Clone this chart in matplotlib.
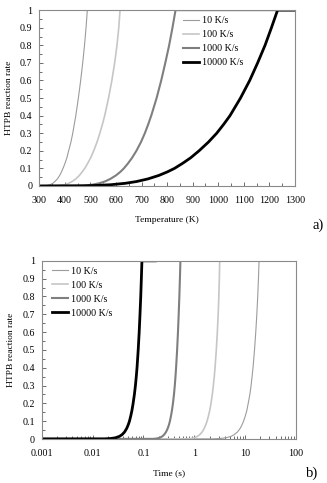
import numpy as np
import matplotlib
matplotlib.use('Agg')
import matplotlib.pyplot as plt
from matplotlib.ticker import MultipleLocator, LogLocator, FixedLocator

plt.rcParams['font.family'] = ['Liberation Serif', 'DejaVu Serif']

# heating rates (K/s) and labels
rates = [10, 100, 1000, 10000]
labels = ['10 K/s', '100 K/s', '1000 K/s', '10000 K/s']
T0 = 300.0

# conversion levels
alpha = [0, 0.001, 0.003, 0.007, 0.015, 0.025, 0.04, 0.06, 0.08, 0.1, 0.13, 0.16,
         0.2, 0.25, 0.3, 0.35, 0.4, 0.5, 0.6, 0.7, 0.8, 0.9, 1.0, 1.0]

# temperature (K) at each conversion level, per heating rate
temp_10 = [300, 323, 332, 342, 353, 361, 371, 380, 387, 393, 401, 408,
           415, 424, 431, 437, 443, 453, 462, 470, 477, 483, 488, 500]
temp_100 = [300, 370, 385, 400, 415, 428, 443, 457, 468, 478, 490, 501,
            513, 526, 537, 547, 556, 571, 584, 595, 604, 611, 616, 2000]
temp_1000 = [300, 457, 482, 507, 534, 556, 578, 600, 617, 631, 648, 663,
             680, 698, 713, 726, 738, 759, 777, 793, 808, 821, 833, 2000]
temp_10000 = [300, 473, 526, 580, 636, 680, 725, 768, 801, 829, 862, 892,
              925, 962, 994, 1021, 1046, 1087, 1123, 1154, 1183, 1208, 1232, 2000]

temps = [temp_10, temp_100, temp_1000, temp_10000]
colors = ['#9c9c9c', '#c6c6c6', '#7f7f7f', '#000000']
widths = [0.8, 1.2, 1.5, 2.0]

fig = plt.figure(figsize=(3.27, 4.83), dpi=100)
ax1 = fig.add_axes([0.120, 0.615, 0.782, 0.364])
ax2 = fig.add_axes([0.128, 0.091, 0.777, 0.369])

for T, c, w, lab, r in zip(temps, colors, widths, labels, rates):
    T = np.array(T, dtype=float)
    ax1.plot(T, alpha, color=c, lw=w, label=lab)
    # time to reach each temperature at constant heating rate
    ax2.plot((T - T0) / r, alpha, color=c, lw=w, label=lab)

ax1.set_xlim(300, 1300)
ax1.set_ylim(0, 1)
ax1.xaxis.set_major_locator(MultipleLocator(100))
ax1.xaxis.set_minor_locator(MultipleLocator(50))

ax2.set_xscale('log')
ax2.set_xlim(0.001, 100)
ax2.set_ylim(0, 1)
ax2.xaxis.set_major_locator(FixedLocator([0.001, 0.01, 0.1, 1, 10, 100]))
ax2.xaxis.set_minor_locator(LogLocator(base=10, subs=np.arange(2, 10), numticks=20))
ax2.set_xticklabels(['0.001', '0.01', '0.1', '1', '10', '100'])

ylabs = ['0'] + ['%.1f' % v for v in np.arange(0.1, 0.95, 0.1)] + ['1']
for ax in (ax1, ax2):
    ax.set_yticks(np.round(np.arange(0, 1.01, 0.1), 1))
    ax.set_yticklabels(ylabs)
    ax.yaxis.set_minor_locator(MultipleLocator(0.05))
    for s in ax.spines.values():
        s.set_color('#8a8a8a')
        s.set_linewidth(0.8)
    ax.tick_params(which='both', direction='in', color='#555555', width=0.6,
                   labelsize=7.2)
    ax.tick_params(which='major', length=3)
    ax.tick_params(which='minor', length=2)
    ax.tick_params(axis='x', pad=7)
    ax.tick_params(axis='y', pad=5)
    ax.set_ylabel('HTPB reaction rate', fontsize=6.8, labelpad=5)

ax1.set_xlabel('Temperature (K)', fontsize=6.8, labelpad=8)
ax2.set_xlabel('Time (s)', fontsize=6.8, labelpad=8)

leg_kw = dict(frameon=False, fontsize=7.2, handlelength=1.6, handletextpad=0.3,
              labelspacing=0.5, borderaxespad=0.2)
ax1.legend(loc='upper left', bbox_to_anchor=(0.54, 1.0), **leg_kw)
ax2.legend(loc='upper left', bbox_to_anchor=(0.015, 1.0), **leg_kw)

fig.text(318 / 327, 1 - 225 / 483, 'a)', fontsize=10.5, ha='center', va='center')
fig.text(312 / 327, 1 - 473 / 483, 'b)', fontsize=10.5, ha='center', va='center')

fig.savefig('out.png', dpi=100)
